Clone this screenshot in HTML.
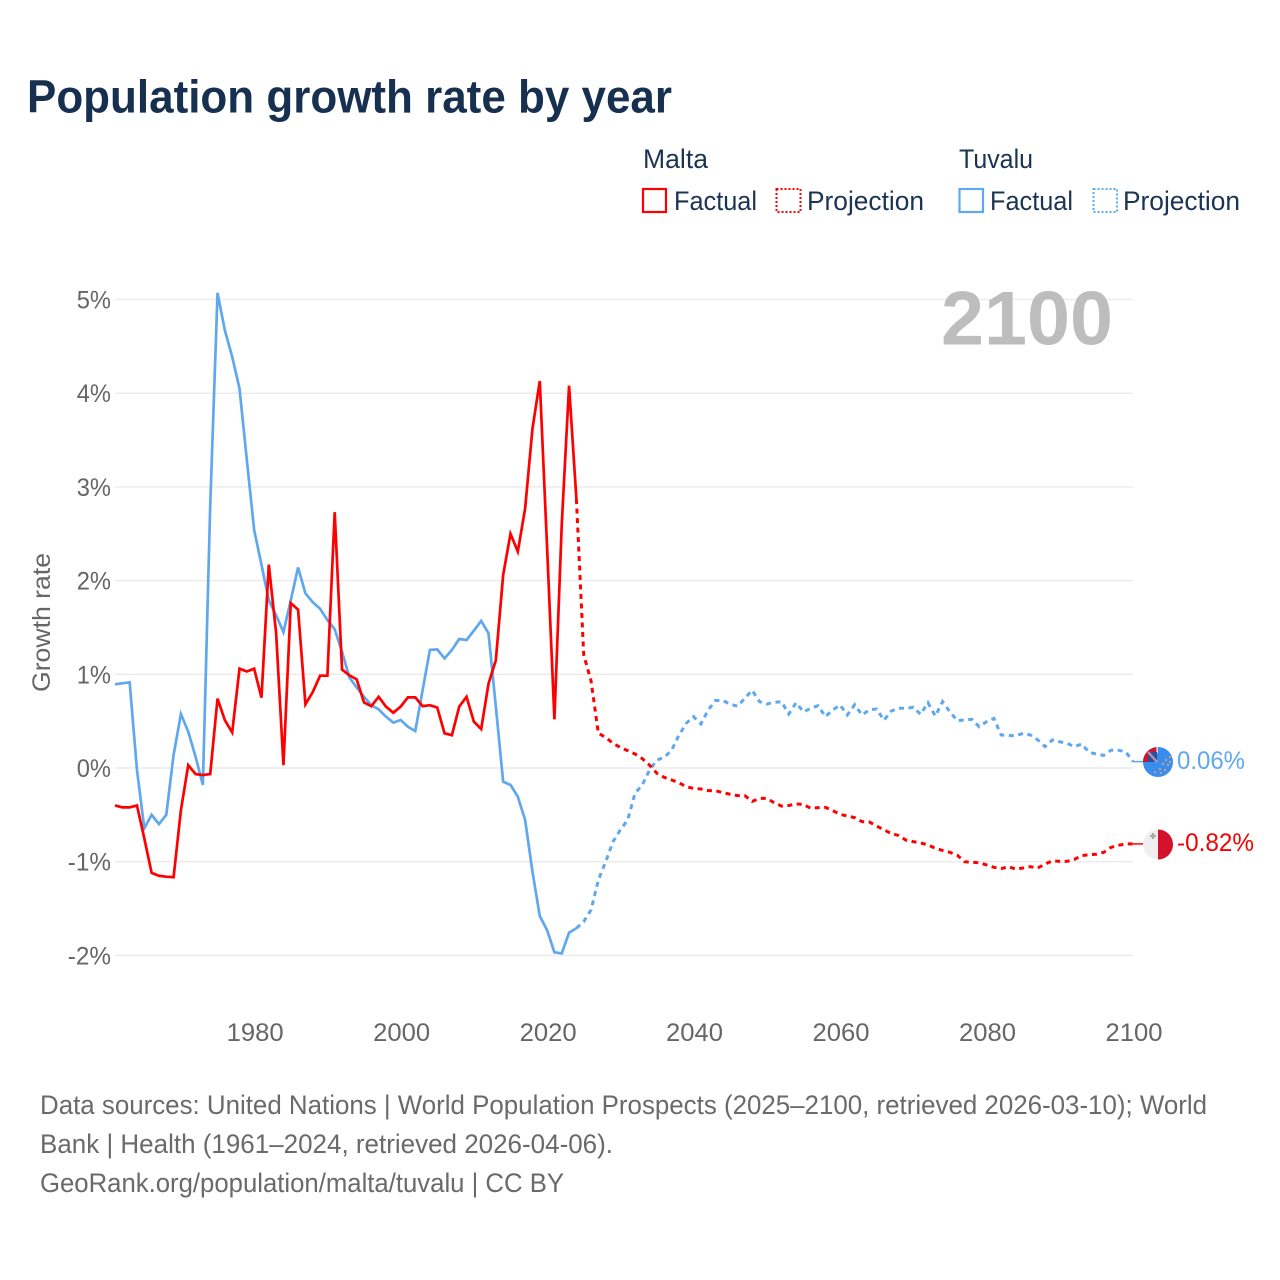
<!DOCTYPE html>
<html lang="en">
<head>
<meta charset="utf-8">
<title>Population growth rate by year</title>
<style>
html,body{margin:0;padding:0;background:#fff}
svg{display:block}
text{font-family:"Liberation Sans",Arial,sans-serif}
</style>
</head>
<body>
<svg id="chart" xmlns="http://www.w3.org/2000/svg" width="1280" height="1280" viewBox="0 0 1280 1280">
  <defs>
    <clipPath id="flag-clip-tuvalu"><circle id="clip-tuvalu" cx="1158" cy="762" r="15"></circle></clipPath>
    <clipPath id="flag-clip-malta"><circle id="clip-malta" cx="1158" cy="844.500" r="15"></circle></clipPath>
  </defs>
  <rect width="1280" height="1280" fill="#fff"></rect>
  <text x="27" y="112.500" font-size="46" font-weight="700" fill="#17304f" textLength="645" lengthAdjust="spacingAndGlyphs">Population growth rate by year</text>

  <g font-size="27" fill="#1b3454">
    <text x="643" y="168" textLength="65" lengthAdjust="spacingAndGlyphs">Malta</text>
    <text x="959" y="168" textLength="74" lengthAdjust="spacingAndGlyphs">Tuvalu</text>
    <rect x="643" y="189" width="23" height="23" fill="none" stroke="#ff0000" stroke-width="2.200"></rect>
    <text x="674" y="210" textLength="83" lengthAdjust="spacingAndGlyphs">Factual</text>
    <rect x="776.500" y="189" width="24" height="23" fill="none" stroke="#ff0000" stroke-width="2" stroke-dasharray="2 2"></rect>
    <text x="807" y="210" textLength="117" lengthAdjust="spacingAndGlyphs">Projection</text>
    <rect x="959.500" y="189" width="23.500" height="23" fill="none" stroke="#5fa8ee" stroke-width="2.200"></rect>
    <text x="990" y="210" textLength="83" lengthAdjust="spacingAndGlyphs">Factual</text>
    <rect x="1093.500" y="189" width="23.500" height="23" fill="none" stroke="#5fa8ee" stroke-width="2" stroke-dasharray="2 2"></rect>
    <text x="1123" y="210" textLength="117" lengthAdjust="spacingAndGlyphs">Projection</text>
  </g>

  <g id="grid"></g>
  <g id="y-ticks" font-size="25" fill="#666"></g>
  <g id="x-ticks" font-size="25" fill="#666"></g>
  <text transform="translate(50 622.500) rotate(-90)" text-anchor="middle" font-size="25" fill="#666" textLength="139" lengthAdjust="spacingAndGlyphs">Growth rate</text>
  <text x="941" y="344.500" font-size="76" font-weight="700" fill="#bdbdbd" textLength="172" lengthAdjust="spacingAndGlyphs">2100</text>

  <g id="series"></g>

  <g>
    <g clip-path="url(#flag-clip-tuvalu)">
      <rect x="1143" y="747" width="30" height="30" fill="#3a8dee"></rect>
      <rect x="1143" y="747" width="14" height="15" fill="#d0142c"></rect>
      <rect x="1156.500" y="747" width="1.200" height="6" fill="#ffffff"></rect>
      <rect x="1148" y="752" width="9" height="10" fill="#2a4f9c"></rect>
      <path d="M1148 752L1157 762" stroke="#f4f4f4" stroke-width="1.800" fill="none"></path>
      <path d="M1148 752L1157 762" stroke="#d0142c" stroke-width="0.600" fill="none"></path>
      <g fill="#d9a070">
        <circle cx="1170" cy="757" r="1.100"></circle>
        <circle cx="1166" cy="760" r="1.100"></circle>
        <circle cx="1170" cy="762" r="1.100"></circle>
        <circle cx="1163" cy="764" r="1.100"></circle>
        <circle cx="1168" cy="765" r="1.100"></circle>
        <circle cx="1160" cy="769" r="1.100"></circle>
        <circle cx="1165" cy="770" r="1.100"></circle>
        <circle cx="1155" cy="772" r="1.100"></circle>
        <circle cx="1161" cy="773" r="1.100"></circle>
      </g>
    </g>
  </g>
  <g>
    <g clip-path="url(#flag-clip-malta)">
      <rect x="1143" y="829" width="15" height="31" fill="#efefef"></rect>
      <rect x="1158" y="829" width="15" height="31" fill="#d3112c"></rect>
      <path d="M1153 833v6M1150 836h6" stroke="#a9a9a9" stroke-width="2.200" fill="none"></path>
    </g>
  </g>
  <text id="label-tuvalu" x="1177" y="769" font-size="25" fill="#5fa8ee" textLength="68" lengthAdjust="spacingAndGlyphs"></text>
  <text id="label-malta" x="1177" y="851" font-size="25" fill="#f60000" textLength="77" lengthAdjust="spacingAndGlyphs"></text>

  <g font-size="27" fill="#6a6a6a">
    <text x="40" y="1114" textLength="1167" lengthAdjust="spacingAndGlyphs">Data sources: United Nations | World Population Prospects (2025–2100, retrieved 2026-03-10); World</text>
    <text x="40" y="1153" textLength="573" lengthAdjust="spacingAndGlyphs">Bank | Health (1961–2024, retrieved 2026-04-06).</text>
    <text x="40" y="1192" textLength="524" lengthAdjust="spacingAndGlyphs">GeoRank.org/population/malta/tuvalu | CC BY</text>
  </g>
</svg>
<script>
const yTickValues = [5, 4, 3, 2, 1, 0, -1, -2];
const xTickYears = [1980, 2000, 2020, 2040, 2060, 2080, 2100];
const endLabelTuvalu = "0.06%";
const endLabelMalta = "-0.82%";

const factualYears = [1961,1962,1963,1964,1965,1966,1967,1968,1969,1970,1971,1972,1973,1974,1975,1976,1977,1978,1979,1980,1981,1982,1983,1984,1985,1986,1987,1988,1989,1990,1991,1992,1993,1994,1995,1996,1997,1998,1999,2000,2001,2002,2003,2004,2005,2006,2007,2008,2009,2010,2011,2012,2013,2014,2015,2016,2017,2018,2019,2020,2021,2022,2023,2024];
const maltaFactual = [-0.40,-0.42,-0.42,-0.40,-0.75,-1.12,-1.15,-1.16,-1.165,-0.45,0.03,-0.065,-0.075,-0.065,0.74,0.51,0.38,1.06,1.03,1.06,0.75,2.17,1.44,0.03,1.76,1.69,0.68,0.81,0.985,0.985,2.73,1.05,0.99,0.946,0.70,0.66,0.76,0.655,0.59,0.655,0.754,0.754,0.66,0.67,0.645,0.37,0.35,0.655,0.76,0.495,0.416,0.90,1.15,2.06,2.50,2.31,2.77,3.62,4.13,2.35,0.52,2.60,4.08,2.87];
const tuvaluFactual = [0.893,0.904,0.914,-0.02,-0.644,-0.50,-0.598,-0.50,0.139,0.576,0.388,0.12,-0.18,2.80,5.07,4.67,4.39,4.05,3.29,2.54,2.17,1.79,1.63,1.45,1.79,2.14,1.864,1.77,1.70,1.58,1.48,1.24,0.967,0.86,0.76,0.67,0.626,0.548,0.484,0.512,0.44,0.395,0.83,1.26,1.266,1.17,1.26,1.377,1.366,1.466,1.57,1.437,0.655,-0.146,-0.18,-0.306,-0.555,-1.106,-1.58,-1.73,-1.967,-1.978,-1.757,-1.71];

const projectionYears = [2024,2025,2026,2027,2028,2029,2030,2031,2032,2033,2034,2035,2036,2037,2038,2039,2040,2041,2042,2043,2044,2045,2046,2047,2048,2049,2050,2051,2052,2053,2054,2055,2056,2057,2058,2059,2060,2061,2062,2063,2064,2065,2066,2067,2068,2069,2070,2071,2072,2073,2074,2075,2076,2077,2078,2079,2080,2081,2082,2083,2084,2085,2086,2087,2088,2089,2090,2091,2092,2093,2094,2095,2096,2097,2098,2099,2100];
const maltaProjection = [2.87,1.206,0.93,0.37,0.327,0.263,0.22,0.185,0.15,0.10,0.03,-0.057,-0.10,-0.128,-0.157,-0.20,-0.217,-0.224,-0.242,-0.242,-0.263,-0.28,-0.295,-0.295,-0.356,-0.324,-0.324,-0.37,-0.406,-0.40,-0.384,-0.388,-0.43,-0.423,-0.42,-0.455,-0.495,-0.512,-0.53,-0.573,-0.576,-0.62,-0.66,-0.70,-0.72,-0.77,-0.786,-0.80,-0.82,-0.857,-0.88,-0.90,-0.93,-1.00,-1.007,-1.01,-1.035,-1.06,-1.074,-1.053,-1.08,-1.067,-1.053,-1.067,-1.025,-0.99,-0.996,-0.996,-0.975,-0.935,-0.925,-0.92,-0.90,-0.847,-0.825,-0.81,-0.81];
const tuvaluProjection = [-1.71,-1.64,-1.515,-1.195,-1.00,-0.786,-0.66,-0.555,-0.27,-0.18,-0.02,0.085,0.114,0.19,0.35,0.477,0.548,0.47,0.62,0.72,0.72,0.68,0.66,0.744,0.83,0.708,0.683,0.70,0.708,0.576,0.697,0.60,0.637,0.665,0.548,0.62,0.672,0.566,0.675,0.566,0.62,0.63,0.51,0.608,0.637,0.637,0.647,0.573,0.697,0.555,0.708,0.60,0.505,0.512,0.52,0.44,0.494,0.53,0.352,0.345,0.345,0.37,0.352,0.30,0.228,0.30,0.28,0.263,0.228,0.256,0.167,0.15,0.135,0.19,0.19,0.174,0.068];

const NS = "http://www.w3.org/2000/svg";
const plotLeft = 115, plotRight = 1133, yearMin = 1961, yearMax = 2100;
const zeroY = 768, pxPerPercent = 93.7;
const colorMalta = "#ff0000", colorTuvalu = "#5fa8ee";

function xScale(year) {
  return plotLeft + (year - yearMin) * (plotRight - plotLeft) / (yearMax - yearMin);
}
function yScale(value) {
  return zeroY - value * pxPerPercent;
}
function pathFrom(years, values) {
  return values.map(function (v, i) {
    return (i ? "L" : "M") + xScale(years[i]).toFixed(2) + " " + yScale(v).toFixed(2);
  }).join("");
}
function labelWidth(s) {
  let w = 0;
  for (const c of s) {
    w += c === "%" ? 20 : c === "-" ? 9 : 14.25;
  }
  return w;
}

const gridGroup = document.getElementById("grid");
const yTickGroup = document.getElementById("y-ticks");
yTickValues.forEach(function (v) {
  const line = document.createElementNS(NS, "line");
  
  
  line.setAttribute("x1", plotLeft);
  line.setAttribute("x2", plotRight);
  line.setAttribute("y1", yScale(v));
  line.setAttribute("y2", yScale(v));
  line.setAttribute("stroke", "#ececec");
  line.setAttribute("stroke-width", "1.500");
  gridGroup.appendChild(line);

  const label = document.createElementNS(NS, "text");
  const str = v + "%";
  
  
  label.setAttribute("x", 111);
  label.setAttribute("y", yScale(v) + 9);
  label.setAttribute("text-anchor", "end");
  label.setAttribute("textLength", labelWidth(str));
  label.setAttribute("lengthAdjust", "spacingAndGlyphs");
  label.textContent = str;
  yTickGroup.appendChild(label);
});

const xTickGroup = document.getElementById("x-ticks");
xTickYears.forEach(function (yr) {
  const label = document.createElementNS(NS, "text");
  const str = String(yr);
  
  
  label.setAttribute("x", xScale(yr) + 1);
  label.setAttribute("y", 1041);
  label.setAttribute("text-anchor", "middle");
  label.setAttribute("textLength", labelWidth(str));
  label.setAttribute("lengthAdjust", "spacingAndGlyphs");
  label.textContent = str;
  xTickGroup.appendChild(label);
});

const seriesGroup = document.getElementById("series");
function addLine(name, years, values, color, dash) {
  const p = document.createElementNS(NS, "path");
  
  
  p.setAttribute("d", pathFrom(years, values));
  p.setAttribute("fill", "none");
  p.setAttribute("stroke", color);
  p.setAttribute("stroke-width", dash ? "3" : "2.700");
  p.setAttribute("stroke-linejoin", "miter");
  if (dash) {
    p.setAttribute("stroke-dasharray", dash);
  }
  seriesGroup.appendChild(p);
}
addLine("tuvalu-factual-line", factualYears, tuvaluFactual, colorTuvalu, null);
addLine("tuvalu-projection-line", projectionYears, tuvaluProjection, colorTuvalu, "5 4.500");
addLine("malta-factual-line", factualYears, maltaFactual, colorMalta, null);
addLine("malta-projection-line", projectionYears, maltaProjection, colorMalta, "5 4.500");

function addConnector(name, value, color) {
  const c = document.createElementNS(NS, "line");
  
  
  c.setAttribute("x1", xScale(yearMax));
  c.setAttribute("x2", 1143);
  c.setAttribute("y1", yScale(value));
  c.setAttribute("y2", yScale(value));
  c.setAttribute("stroke", color);
  c.setAttribute("stroke-width", "1.500");
  seriesGroup.appendChild(c);
}
addConnector("tuvalu-end-connector", tuvaluProjection[tuvaluProjection.length - 1], colorTuvalu);
addConnector("malta-end-connector", maltaProjection[maltaProjection.length - 1], colorMalta);

document.getElementById("label-tuvalu").textContent = endLabelTuvalu;
document.getElementById("label-malta").textContent = endLabelMalta;
</script>
</body>
</html>
